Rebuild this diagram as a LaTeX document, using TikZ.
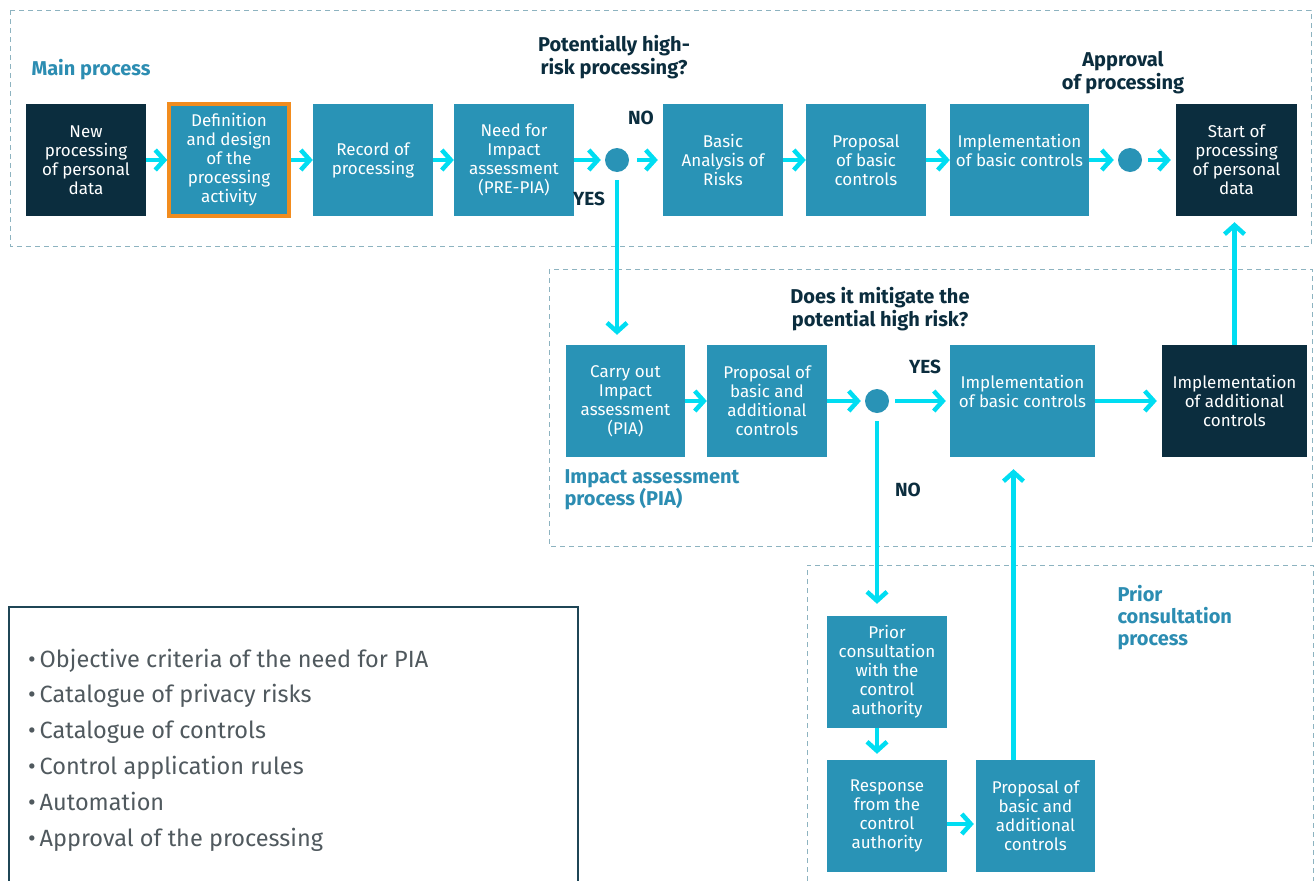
\documentclass[tikz,border=0pt]{standalone}
\usepackage{fontspec}
\setmainfont{Fira Sans}
\usetikzlibrary{arrows.meta}
\definecolor{navy}{HTML}{0B2D3E}
\definecolor{boxteal}{HTML}{2993B6}
\definecolor{flowcyan}{HTML}{00DDF2}
\definecolor{labteal}{HTML}{2C8DB2}
\definecolor{dashgray}{HTML}{8DB3C0}
\definecolor{hilite}{HTML}{F28C1E}
\definecolor{legframe}{HTML}{1F4656}
\definecolor{legtext}{HTML}{50595E}

\begin{document}
\begin{tikzpicture}[x=1pt,y=-1pt,
	stepbox/.style={fill=boxteal, text=white, minimum width=120pt, minimum height=112pt, align=center, inner sep=0pt, font=\fontsize{17}{19}\selectfont},
	darkbox/.style={stepbox, fill=navy},
	decision/.style={circle, fill=boxteal, minimum size=24pt, inner sep=0pt},
	flow/.style={draw=flowcyan, line width=4.5pt, -{Straight Barb[length=9pt,width=20pt]}},
	dashframe/.style={draw=dashgray, line width=1pt, dash pattern=on 5pt off 4pt},
	question/.style={text=navy, font=\bfseries\fontsize{20}{23}\selectfont, align=center},
	answer/.style={text=navy, font=\bfseries\fontsize{19}{22}\selectfont},
	procname/.style={text=labteal, font=\bfseries\fontsize{20}{22}\selectfont, align=left, anchor=west},
	legitem/.style={text=legtext, font=\fontsize{23.5}{26}\selectfont, anchor=base west, inner sep=0pt}]
	\fill[white] (0,0) rectangle (1315,881);
	\useasboundingbox (0,0) rectangle (1315,881);

	\draw[dashframe] (10,10) rectangle (1311,246);
	\draw[dashframe] (549,269) rectangle (1312,546);
	\draw[dashframe] (807,890) -- (807,565) -- (1313,565) -- (1313,890);
	\draw[legframe, line width=2pt] (9,890) -- (9,607) -- (578,607) -- (578,890);

	\node[darkbox] (newproc) at (86,160) {New\\processing\\of personal\\data};
	\node[stepbox, draw=hilite, line width=3.5pt] (defin) at (229,160) {Definition\\and design\\of the\\processing\\activity};
	\node[stepbox] (record) at (373,160) {Record of\\processing};
	\node[stepbox] (needpia) at (514,160) {Need for\\Impact\\assessment\\(PRE-PIA)};
	\node[decision] (dot1) at (617,160) {};
	\node[stepbox] (basicrisk) at (723,160) {Basic\\Analysis of\\Risks};
	\node[stepbox] (propbasic) at (866,160) {Proposal\\of basic\\controls};
	\node[stepbox, minimum width=139pt] (implbasic) at (1019.5,160) {Implementation\\of basic controls\\~};
	\node[decision] (dot2) at (1130,160) {};
	\node[darkbox, minimum width=121pt] (startproc) at (1236.5,160) {Start of\\processing\\of personal\\data};

	\node[stepbox, minimum width=119pt] (carryout) at (625.5,401) {Carry out\\Impact\\assessment\\(PIA)};
	\node[stepbox] (propadd) at (767,401) {Proposal of\\basic and\\additional\\controls};
	\node[decision] (dot3) at (877,401) {};
	\node[stepbox, minimum width=145pt] (implbasic2) at (1022.5,401) {Implementation\\of basic controls\\~};
	\node[darkbox, minimum width=145pt] (impladd) at (1234.5,401) {Implementation\\of additional\\controls};

	\node[stepbox] (priorcons) at (887,672) {Prior\\consultation\\with the\\control\\authority};
	\node[stepbox] (response) at (887,816) {Response\\from the\\control\\authority};
	\node[stepbox, minimum width=119pt] (propadd2) at (1035.5,816) {Proposal of\\basic and\\additional\\controls};

	\draw[flow] (newproc.east) -- (defin.west);
	\draw[flow] (defin.east) -- (record.west);
	\draw[flow] (record.east) -- (needpia.west);
	\draw[flow, shorten >=4pt] (needpia.east) -- (dot1.west);
	\draw[flow, shorten <=8pt, shorten >=5pt] (dot1.east) -- (basicrisk.west);
	\draw[flow] (basicrisk.east) -- (propbasic.west);
	\draw[flow] (propbasic.east) -- (implbasic.west);
	\draw[flow, shorten >=4pt] (implbasic.east) -- (dot2.west);
	\draw[flow, shorten <=6pt, shorten >=5pt] (dot2.east) -- (startproc.west);
	\draw[flow, shorten <=8pt, shorten >=10pt] (dot1.south) -- (dot1 |- carryout.north);
	\draw[flow] (carryout.east) -- (propadd.west);
	\draw[flow, shorten >=4pt] (propadd.east) -- (dot3.west);
	\draw[flow, shorten <=6pt, shorten >=4pt] (dot3.east) -- (implbasic2.west);
	\draw[flow, shorten >=5pt] (implbasic2.east) -- (impladd.west);
	\draw[flow, shorten >=6pt] (impladd.north) -- (impladd.north |- startproc.south);
	\draw[flow, shorten <=8pt, shorten >=12pt] (dot3.south) -- (dot3 |- priorcons.north);
	\draw[flow, shorten >=6pt] (priorcons.south -| dot3) -- (response.north -| dot3);
	\draw[flow, shorten >=2pt] ([yshift=-8pt]response.east) -- ([yshift=-8pt]propadd2.west);
	\draw[flow, shorten >=12pt] ([xshift=-22pt]propadd2.north) -- ([xshift=-22pt]propadd2.north |- implbasic2.south);

	\node[procname] (mainlbl) at (28,70) {Main process};
	\node[question] (q1) at (614,57) {Potentially high-\\risk processing?};
	\node[answer] (no1) at (641,118) {NO};
	\node[answer] (yes1) at (589,199) {YES};
	\node[question] (q2) at (1123,73) {Approval\\of processing};
	\node[question] (q3) at (880,309) {Does it mitigate the\\potential high risk?};
	\node[answer] (yes2) at (925,367) {YES};
	\node[answer] (no2) at (908,490) {NO};
	\node[procname] (pialbl) at (561,490) {Impact assessment\\process (PIA)};
	\node[procname] (priorlbl) at (1114,618) {Prior\\consultation\\process};

	\node[legitem] (crit) at (28,667) {\textbullet\,Objective criteria of the need for PIA};
	\node[legitem] (risks) at (28,702) {\textbullet\,Catalogue of privacy risks};
	\node[legitem] (ctrls) at (28,738) {\textbullet\,Catalogue of controls};
	\node[legitem] (rules) at (28,774) {\textbullet\,Control application rules};
	\node[legitem] (auto) at (28,810) {\textbullet\,Automation};
	\node[legitem] (approv) at (28,846) {\textbullet\,Approval of the processing};
\end{tikzpicture}
\end{document}
